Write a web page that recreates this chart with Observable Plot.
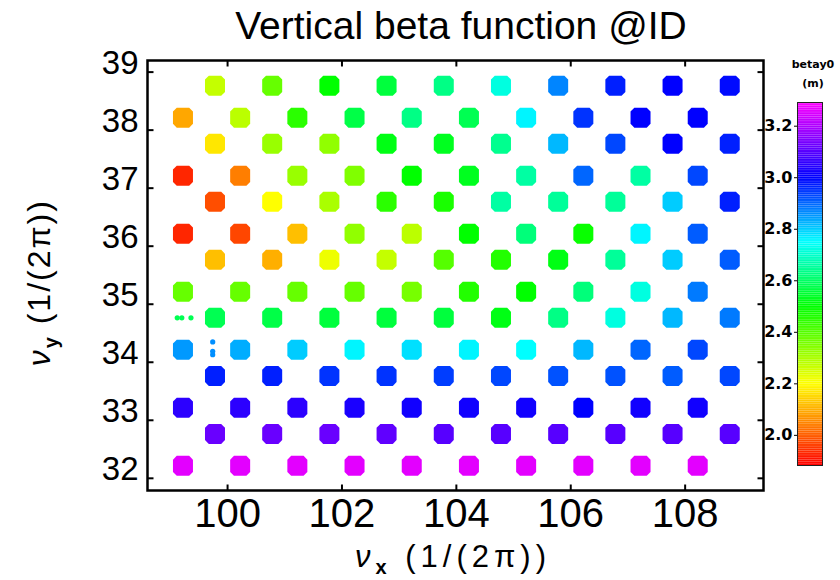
<!DOCTYPE html>
<html><head><meta charset="utf-8">
<script src="https://cdn.jsdelivr.net/npm/d3@7"></script>
<script src="https://cdn.jsdelivr.net/npm/@observablehq/plot@0.6"></script>
<style>
html,body{margin:0;padding:0;background:#fff;}
#wrap{position:relative;width:840px;height:580px;overflow:hidden;font-family:"Liberation Sans",Arial,sans-serif;color:#000;}
#wrap svg{position:absolute;top:0;overflow:visible;}
.t{position:absolute;white-space:nowrap;}
</style></head><body><div id="wrap"></div>
<script>
// ---- data ----
const nuXLow  = [99.22,100.22,101.22,102.22,103.22,104.22,105.22,106.22,107.22,108.22];
const nuXHigh = [99.78,100.78,101.78,102.78,103.78,104.78,105.78,106.78,107.78,108.78];
const nuYRows = [38.765,38.215,37.765,37.215,36.765,36.215,35.765,35.215,34.765,34.215,33.765,33.215,32.765,32.215];
const beta_38_77 = [2.27,2.38,2.50,2.56,2.63,2.72,2.87,2.97,3.00,2.99];
const beta_38_22 = [2.09,2.28,2.45,2.57,2.63,2.58,2.76,2.95,3.00,3.00];
const beta_37_77 = [2.17,2.32,2.33,2.52,2.53,2.64,2.82,2.93,3.00,2.97];
const beta_37_22 = [1.93,2.04,2.32,2.35,2.50,2.53,2.66,2.90,2.66,2.93];
const beta_36_77 = [1.98,2.20,2.30,2.45,2.47,2.66,2.65,2.65,2.80,2.97];
const beta_36_22 = [1.93,1.97,2.12,2.33,2.28,2.50,2.62,2.49,2.76,2.91];
const beta_35_77 = [2.12,2.10,2.22,2.27,2.40,2.46,2.52,2.65,2.80,2.91];
const beta_35_22 = [2.38,2.38,2.38,2.38,2.36,2.46,2.50,2.62,2.72,2.88];
const beta_34_77 = [2.58,2.57,2.56,2.56,2.56,2.52,2.63,2.72,2.82,2.88];
const beta_34_22 = [2.85,2.83,2.80,2.76,2.78,2.76,2.75,2.82,2.90,2.93];
const beta_33_77 = [2.97,2.97,2.95,2.95,2.94,2.93,2.92,2.92,2.91,2.93];
const beta_33_22 = [3.05,3.05,3.05,3.03,3.02,3.02,3.02,3.00,3.02,3.02];
const beta_32_77 = [3.12,3.12,3.12,3.11,3.10,3.10,3.10,3.10,3.10,3.10];
const beta_32_22 = [3.26,3.26,3.26,3.26,3.26,3.26,3.26,3.26,3.26,3.26];
// small partial fragments near the left edge
const fragX    = [99.12,99.20,99.36,99.74,99.74,99.74];
const fragY    = [34.765,34.765,34.765,34.35,34.19,34.13];
const fragBeta = [2.58,2.58,2.58,2.86,2.86,2.86];
const xTicks  = [100,102,104,106,108];
const yTicks  = [32,33,34,35,36,37,38,39];
const cbTicks = [2.0,2.2,2.4,2.6,2.8,3.0,3.2];
const colorStops = [1.883,2.2,2.5,2.75,3.0,3.292];
const colorRange = ["#ff0000","#ffff00","#00ff00","#00ffff","#0000ff","#ff00ff"];

// ---- build tables ----
const rowBetas = [beta_38_77,beta_38_22,beta_37_77,beta_37_22,beta_36_77,beta_36_22,beta_35_77,
                  beta_35_22,beta_34_77,beta_34_22,beta_33_77,beta_33_22,beta_32_77,beta_32_22];
const points = [];
nuYRows.forEach((ny, r) => {
  const xs = (r % 2 === 0) ? nuXHigh : nuXLow;
  rowBetas[r].forEach((b, i) => points.push({x: xs[i], y: ny, beta: b}));
});
const frags = fragX.map((x, i) => ({x, y: fragY[i], beta: fragBeta[i]}));

const colorOpts = {type: "linear", domain: colorStops, range: colorRange, clamp: true};

const octagon = {draw(ctx, size) {
  const s = Math.sqrt(size / Math.PI), c = s * 0.38;
  ctx.moveTo(-s + c, -s); ctx.lineTo(s - c, -s); ctx.lineTo(s, -s + c); ctx.lineTo(s, s - c);
  ctx.lineTo(s - c, s); ctx.lineTo(-s + c, s); ctx.lineTo(-s, s - c); ctx.lineTo(-s, -s + c); ctx.closePath();
}};
const mk = (dx, dy) => ({draw(ctx) { ctx.moveTo(0, 0); ctx.lineTo(dx, dy); }});
const tickUp = mk(0, -6), tickDown = mk(0, 6), tickRight = mk(6, 0), tickLeft = mk(-6, 0);
const tk = {stroke: "black", strokeWidth: 2, fill: "none"};

const main = Plot.plot({
  width: 840, height: 580,
  marginLeft: 147, marginRight: 77, marginTop: 60, marginBottom: 90,
  style: {fontFamily: "'Liberation Sans', Arial, sans-serif", background: "transparent", color: "black"},
  x: {domain: [98.6, 109.37], label: null},
  y: {domain: [31.79, 39.2], label: null},
  color: colorOpts,
  marks: [
    Plot.dot(points, {x: "x", y: "y", fill: "beta", r: 10, symbol: octagon, stroke: null}),
    Plot.dot(frags, {x: "x", y: "y", fill: "beta", r: 2.6, stroke: null}),
    Plot.frame({stroke: "black", strokeWidth: 2.5}),
    Plot.axisX(xTicks, {anchor: "bottom", tickSize: 0, tickPadding: 8, fontSize: 40, tickFormat: d => String(d), label: null}),
    Plot.axisY(yTicks, {anchor: "left", tickSize: 0, tickPadding: 9, fontSize: 33, dy: -9, tickFormat: d => String(d), label: null}),
    Plot.dot(xTicks, {x: d => d, frameAnchor: "bottom", symbol: tickUp, ...tk}),
    Plot.dot(xTicks, {x: d => d, frameAnchor: "top", symbol: tickDown, ...tk}),
    Plot.dot(yTicks, {y: d => d, frameAnchor: "left", symbol: tickRight, ...tk}),
    Plot.dot(yTicks, {y: d => d, frameAnchor: "right", symbol: tickLeft, ...tk})
  ]
});
main.style.left = "0px";

// colour bar
const cbLo = colorStops[0], cbHi = colorStops[colorStops.length - 1], nStrip = 200;
const strips = d3.range(nStrip).map(i => {
  const lo = cbLo + (cbHi - cbLo) * i / nStrip, hi = cbLo + (cbHi - cbLo) * (i + 1) / nStrip;
  return {lo, hi, mid: (lo + hi) / 2};
});
const cb = Plot.plot({
  width: 90, height: 580,
  marginLeft: 47, marginRight: 18, marginTop: 102, marginBottom: 115,
  style: {fontFamily: "'DejaVu Sans', sans-serif", background: "transparent", color: "black"},
  x: {domain: [0, 1], axis: null},
  y: {domain: [cbLo, cbHi], label: null},
  color: colorOpts,
  marks: [
    Plot.rect(strips, {x1: () => 0, x2: () => 1, y1: "lo", y2: "hi", fill: "mid", inset: 0}),
    Plot.frame({stroke: "#222", strokeWidth: 1}),
    Plot.axisY(cbTicks, {anchor: "left", tickSize: 3, tickPadding: 2, fontSize: 16, fontWeight: "bold",
      tickFormat: d3.format(".1f"), label: null})
  ]
});
cb.style.left = "750px";

const wrap = document.getElementById("wrap");
wrap.appendChild(main);
wrap.appendChild(cb);

function addText(html, css) {
  const d = document.createElement("div");
  d.className = "t"; d.innerHTML = html; d.style.cssText += css;
  wrap.appendChild(d);
}
addText("Vertical beta function @ID", "left:0;width:922px;text-align:center;top:4px;font-size:39px;line-height:44px;");
addText("<i>ν</i><sub style='font-size:20px;font-weight:bold'>x</sub>&nbsp;(1/(2π))",
  "left:0;width:906px;text-align:center;top:540px;font-size:31px;line-height:34px;letter-spacing:5px;");
addText("<i>ν</i><sub style='font-size:20px;font-weight:bold'>y</sub>&nbsp;(1/(2π))",
  "left:-155px;width:400px;text-align:center;top:257px;font-size:32px;line-height:40px;letter-spacing:2px;transform:rotate(-90deg);");
addText("betay0", "left:773px;width:80px;text-align:center;top:58px;font-family:'DejaVu Sans';font-weight:bold;font-size:11px;line-height:14px;");
addText("(m)", "left:773px;width:80px;text-align:center;top:77px;font-family:'DejaVu Sans';font-weight:bold;font-size:11px;line-height:14px;");
</script></body></html>
